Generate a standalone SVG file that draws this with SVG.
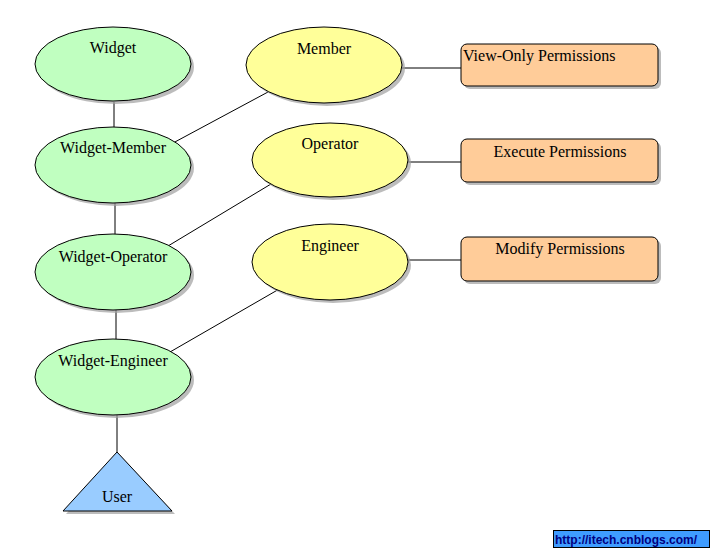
<svg xmlns="http://www.w3.org/2000/svg" width="714" height="552" viewBox="0 0 714 552">
<defs>
<style>
.lbl{font-family:"Liberation Serif","Times New Roman",serif;font-size:16px;fill:#000;}
.sh{fill:#a0a0a0;opacity:0.7;}
.g{fill:#c0ffc0;stroke:#000;stroke-width:1;}
.y{fill:#ffff99;stroke:#000;stroke-width:1;}
.o{fill:#ffcc99;stroke:#000;stroke-width:1;}
.b{fill:#99ccff;stroke:#000;stroke-width:1;}
.c{stroke:#000;stroke-width:1;fill:none;}
</style>
</defs>
<rect width="714" height="552" fill="#fff"/>
<g id="connectors">
<line class="c" x1="114" y1="102" x2="114" y2="127"/>
<line class="c" x1="115" y1="203" x2="115" y2="234"/>
<line class="c" x1="116" y1="310" x2="116" y2="339"/>
<line class="c" x1="117" y1="415" x2="117" y2="452"/>
<line class="c" x1="173" y1="143" x2="268" y2="92"/>
<line class="c" x1="168" y1="246" x2="271" y2="184"/>
<line class="c" x1="170" y1="352" x2="281" y2="288"/>
<line class="c" x1="402" y1="68" x2="461" y2="68"/>
<line class="c" x1="407" y1="162" x2="461" y2="162"/>
<line class="c" x1="407" y1="260" x2="461" y2="260"/>
</g>
<g id="widget">
<ellipse class="sh" cx="116" cy="67" rx="78" ry="37"/>
<ellipse class="g" cx="113" cy="64" rx="78" ry="37"/>
<text class="lbl" x="113" y="53" text-anchor="middle">Widget</text>
</g>
<g id="widget-member">
<ellipse class="sh" cx="116" cy="168" rx="78" ry="38"/>
<ellipse class="g" cx="113" cy="165" rx="78" ry="38"/>
<text class="lbl" x="113" y="153" text-anchor="middle">Widget-Member</text>
</g>
<g id="widget-operator">
<ellipse class="sh" cx="116" cy="275" rx="78" ry="38"/>
<ellipse class="g" cx="113" cy="272" rx="78" ry="38"/>
<text class="lbl" x="113" y="262" text-anchor="middle">Widget-Operator</text>
</g>
<g id="widget-engineer">
<ellipse class="sh" cx="116" cy="380" rx="78" ry="38"/>
<ellipse class="g" cx="113" cy="377" rx="78" ry="38"/>
<text class="lbl" x="113" y="366" text-anchor="middle">Widget-Engineer</text>
</g>
<g id="user">
<polygon class="sh" points="120,455 175,514 66,514"/>
<polygon class="b" points="117,452 172,511 63,511"/>
<text class="lbl" x="117" y="502" text-anchor="middle">User</text>
</g>
<g id="member">
<ellipse class="sh" cx="327" cy="68" rx="78" ry="38"/>
<ellipse class="y" cx="324" cy="65" rx="78" ry="38"/>
<text class="lbl" x="324" y="54" text-anchor="middle">Member</text>
</g>
<g id="operator">
<ellipse class="sh" cx="333" cy="163" rx="78" ry="37"/>
<ellipse class="y" cx="330" cy="160" rx="78" ry="37"/>
<text class="lbl" x="330" y="149" text-anchor="middle">Operator</text>
</g>
<g id="engineer">
<ellipse class="sh" cx="333" cy="265" rx="78" ry="38"/>
<ellipse class="y" cx="330" cy="262" rx="78" ry="38"/>
<text class="lbl" x="330" y="251" text-anchor="middle">Engineer</text>
</g>
<g id="view-only">
<rect class="sh" x="464" y="47" width="197" height="42" rx="6"/>
<rect class="o" x="461" y="44" width="197" height="42" rx="6"/>
<text class="lbl" x="463" y="61">View-Only Permissions</text>
</g>
<g id="execute">
<rect class="sh" x="464" y="142" width="197" height="43" rx="6"/>
<rect class="o" x="461" y="139" width="197" height="43" rx="6"/>
<text class="lbl" x="560" y="157" text-anchor="middle">Execute Permissions</text>
</g>
<g id="modify">
<rect class="sh" x="464" y="240" width="197" height="44" rx="6"/>
<rect class="o" x="461" y="237" width="197" height="44" rx="6"/>
<text class="lbl" x="560" y="254" text-anchor="middle">Modify Permissions</text>
</g>
<g id="url">
<rect x="553.5" y="530.5" width="156" height="17" fill="#3f9cff" stroke="#000" stroke-width="1"/>
<text x="555" y="544" font-family="'Liberation Sans',Arial,sans-serif" font-size="12px" font-weight="bold" fill="#00007f">http://itech.cnblogs.com/</text>
</g>
</svg>
